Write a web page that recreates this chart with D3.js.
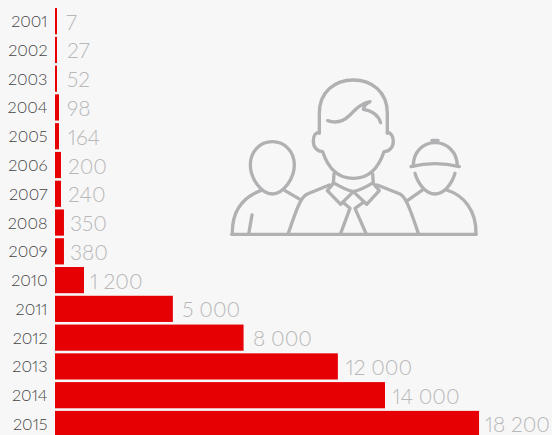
<!DOCTYPE html>
<html lang="en">
  <head>
    <meta charset="utf-8">
    <title>Users by year</title>
    <script src="https://d3js.org/d3.v7.min.js"></script>
    <style type="text/css">
      html, body {
        margin: 0; padding: 0;
        background: #f7f7f7;
        overflow: hidden;
      }
      svg { display: block; }
      text { font-variant-numeric: proportional-nums; font-feature-settings: "pnum"; }
    </style>
  </head>

  <body>
    <svg width="552" height="435"></svg>

    <script type="text/javascript">

      var years = ["2001","2002","2003","2004","2005","2006","2007","2008","2009","2010","2011","2012","2013","2014","2015"];
      var labels = ["7","27","52","98","164","200","240","350","380","1 200","5 000","8 000","12 000","14 000","18 200"];
      var barValues = [85,85,85,170,170,255,255,380,380,1230,5000,8000,12000,14000,17990];

      var svg = d3.select("svg");

      var x = d3.scaleLinear()
                .domain([0, 14000])
                .range([55, 385]);

      var y = d3.scaleBand()
                .domain(years)
                .range([6.6, 438.5])
                .paddingInner(0.09)
                .paddingOuter(0.05);

      // the gap after a bar is not constant in the original
      var gap = d3.scaleOrdinal()
                  .domain(years)
                  .range([9,10,10,8,9,7,7,6,6,6,9.5,9.5,8,7.5,6]);

      var rows = svg.selectAll("g.row")
                    .data(years)
                    .enter()
                    .append("g")
                    .attr("class", "row");

      rows.append("rect")
          .attr("x", x(0))
          .attr("y", function(d){ return y(d); })
          .attr("width", function(d, i){ return x(barValues[i]) - x(0); })
          .attr("height", y.bandwidth())
          .style("fill", "#e60004");

      rows.append("text")
          .attr("x", 47.5)
          .attr("y", function(d){ return y(d) + y.bandwidth() / 2 + 6; })
          .attr("text-anchor", "end")
          .style("font-family", "Lato, sans-serif")
          .style("font-weight", 300)
          .style("font-size", "16.3px")
          .style("fill", "#444")
          .text(function(d){ return d; });

      rows.append("text")
          .attr("x", function(d, i){ return x(barValues[i]) + gap(d); })
          .attr("y", function(d){ return y(d) + y.bandwidth() / 2 + 8.5; })
          .style("font-family", "Lato, sans-serif")
          .style("font-weight", 300)
          .style("font-size", "21px")
          .style("fill", "#b8b8b8")
          .text(function(d, i){ return labels[i]; });

      // The three people, traced at 3x
      var icon = svg.append("g")
                    .attr("transform", "translate(220,70) scale(0.3333)")
                    .style("fill", "none")
                    .style("stroke", "#b1b1b3")
                    .style("stroke-width", 10)
                    .style("stroke-linecap", "round")
                    .style("stroke-linejoin", "round");

      var iconPaths = [
        // centre head, ears, hair
        "M298,190 L298,130 C298,65 345,30 400,30 C455,30 502,65 502,130 L502,190",
        "M298,187 C285,187 280,200 280,213 C280,232 292,245 308,245 C318,275 340,325 400,325 C460,325 482,275 492,245 C508,245 520,232 520,213 C520,200 513,187 502,187",
        "M323,152 C345,160 370,155 390,135 C410,115 425,100 450,95 C440,100 432,108 430,118 C455,122 475,135 482,158",
        // collar and tie
        "M342,312 L340,340 L322,362 L362,403 L400,365 L440,403 L478,362 L460,340 L458,312",
        "M340,338 C360,350 385,362 400,365 C415,362 440,350 460,338",
        "M368,396 L390,415 L362,490",
        "M432,396 L405,415 L438,490",
        // centre shoulders
        "M328,345 L262,372 C245,380 235,400 205,490",
        "M472,345 L540,372 C555,380 565,400 595,490",
        // left person
        "M157,215 C195,215 223,245 223,285 C223,325 190,372 157,372 C124,372 91,325 91,285 C91,245 119,215 157,215",
        "M122,362 C75,380 35,415 37,493",
        "M195,362 L240,388",
        "M96,435 L86,493",
        // right person
        "M580,288 C580,245 610,218 645,218 C680,218 712,245 712,288",
        "M573,290 C620,278 670,278 718,290",
        "M585,310 C595,345 620,372 645,372 C670,372 695,345 705,310",
        "M636,211 L654,211",
        "M608,360 L562,392",
        "M680,360 C730,375 770,420 768,493",
        // ground line
        "M35,493 L768,493"
      ];

      icon.selectAll("path")
          .data(iconPaths)
          .enter()
          .append("path")
          .attr("d", function(d){ return d; });

    </script>
  </body>
</html>
